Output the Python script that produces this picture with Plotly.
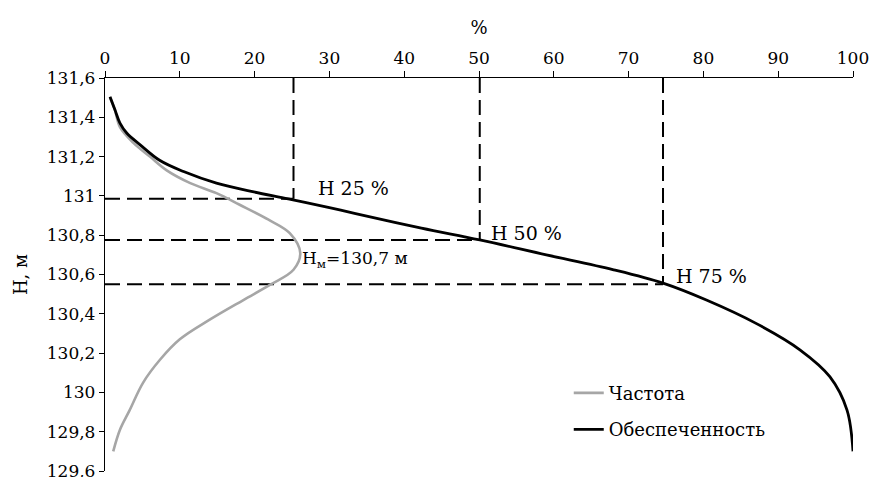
import numpy as np
import plotly.graph_objects as go

# Частота (frequency curve): water level H (m) and percent
freq_H = [131.5, 131.44, 131.35, 131.27, 131.2, 131.13, 131.065, 131.014, 130.955, 130.88,
          130.81, 130.71, 130.624, 130.548, 130.47, 130.37, 130.27, 130.166,
          130.05, 129.91, 129.81, 129.70]
freq_pct = [0.67, 1.3, 2.0, 3.8, 6.0, 8.25, 11.4, 14.9, 18.0, 21.8,
            24.7, 26.1, 25.2, 22.1, 18.5, 14.0, 10.0, 7.35,
            5.1, 3.3, 2.0, 1.1]

# Обеспеченность (cumulative curve)
cum_H = [131.505, 131.437, 131.37, 131.32, 131.26, 131.18, 131.124, 131.065, 131.02, 130.985,
         130.94, 130.91, 130.836, 130.776, 130.70, 130.624, 130.556, 130.47, 130.35, 130.217,
         130.08, 129.91, 129.70]
cum_pct = [0.67, 1.34, 2.0, 2.9, 4.7, 7.35, 10.5, 14.9, 19.9, 24.5,
           30.0, 33.5, 42.3, 50.1, 59.0, 68.0, 74.6, 80.4, 87.1, 92.9,
           96.9, 99.2, 100]

# Quantile reference lines (as drawn)
q_pct = [25.2, 50.1, 74.6]
q_H = [130.985, 130.776, 130.55]
q_labels = ["Н 25 %", "Н 50 %", "Н 75 %"]
q_shift = [(22, 11), (9, 7), (11, 8)]

mode_label = "Н<sub>м</sub>=130,7 м"

y_tickvals = [129.6, 129.8, 130.0, 130.2, 130.4, 130.6, 130.8, 131.0, 131.2, 131.4, 131.6]
y_ticktext = ["129,6", "129,8", "130", "130,2", "130,4", "130,6", "130,8", "131", "131,2", "131,4", "131,6"]
x_tickvals = [0, 10, 20, 30, 40, 50, 60, 70, 80, 90, 100]

FONT = "DejaVu Serif"

fig = go.Figure()

# dashed reference lines
dash_style = dict(color="black", width=2, dash="15px,7px")
for p, h in zip(q_pct, q_H):
    fig.add_trace(go.Scatter(x=[p, p], y=[131.6, h], mode="lines", line=dash_style,
                             showlegend=False, hoverinfo="skip"))
    fig.add_trace(go.Scatter(x=[0, p], y=[h, h], mode="lines", line=dash_style,
                             showlegend=False, hoverinfo="skip"))

fig.add_trace(go.Scatter(x=freq_pct, y=freq_H, mode="lines", name="Частота",
                         line=dict(color="#A6A6A6", width=2.6, shape="spline", smoothing=1.0),
                         legendgroup="a"))
fig.add_trace(go.Scatter(x=cum_pct, y=cum_H, mode="lines", name="Обеспеченность",
                         line=dict(color="black", width=2.8, shape="spline", smoothing=1.0),
                         legendgroup="b"))

for p, h, t, (dx, dy) in zip(q_pct, q_H, q_labels, q_shift):
    fig.add_annotation(x=p, y=h, text=t, showarrow=False, xanchor="left", yanchor="middle",
                       xshift=dx, yshift=dy, font=dict(family=FONT, size=19, color="black"))

i_max = int(np.argmax(freq_pct))
fig.add_annotation(x=freq_pct[i_max], y=130.7, text=mode_label, showarrow=False,
                   xanchor="left", yanchor="middle", xshift=0, yshift=-5,
                   font=dict(family=FONT, size=17, color="black"))

fig.update_layout(
    width=871, height=477,
    margin=dict(l=105, r=18, t=78, b=6, autoexpand=False),
    paper_bgcolor="white", plot_bgcolor="white",
    font=dict(family=FONT, size=17, color="black"),
    showlegend=True,
    legend=dict(x=0.62, y=0.245, xanchor="left", yanchor="top",
                font=dict(family=FONT, size=18, color="black"),
                bgcolor="rgba(0,0,0,0)", tracegroupgap=10, traceorder="grouped"),
    xaxis=dict(range=[0, 100], side="top", tickvals=x_tickvals, showgrid=False, zeroline=False,
               showline=True, linecolor="black", linewidth=1.3, ticks="outside", ticklen=6,
               tickcolor="black", tickwidth=1.3, tickfont=dict(family=FONT, size=17),
               title=dict(text="%", standoff=8, font=dict(family=FONT, size=18)),
               automargin=False),
    yaxis=dict(range=[129.6, 131.6], tickvals=y_tickvals, ticktext=y_ticktext, showgrid=False,
               zeroline=False, showline=True, linecolor="black", linewidth=1.3, ticks="outside",
               ticklen=5, tickcolor="black", tickwidth=1.3, tickfont=dict(family=FONT, size=17),
               ticklabeloverflow="allow",
               title=dict(text="Н, м", standoff=14, font=dict(family=FONT, size=18)),
               automargin=False),
)

fig.write_html("out.html", post_script="document.body.style.margin='0px';",
               config={"displayModeBar": False})
